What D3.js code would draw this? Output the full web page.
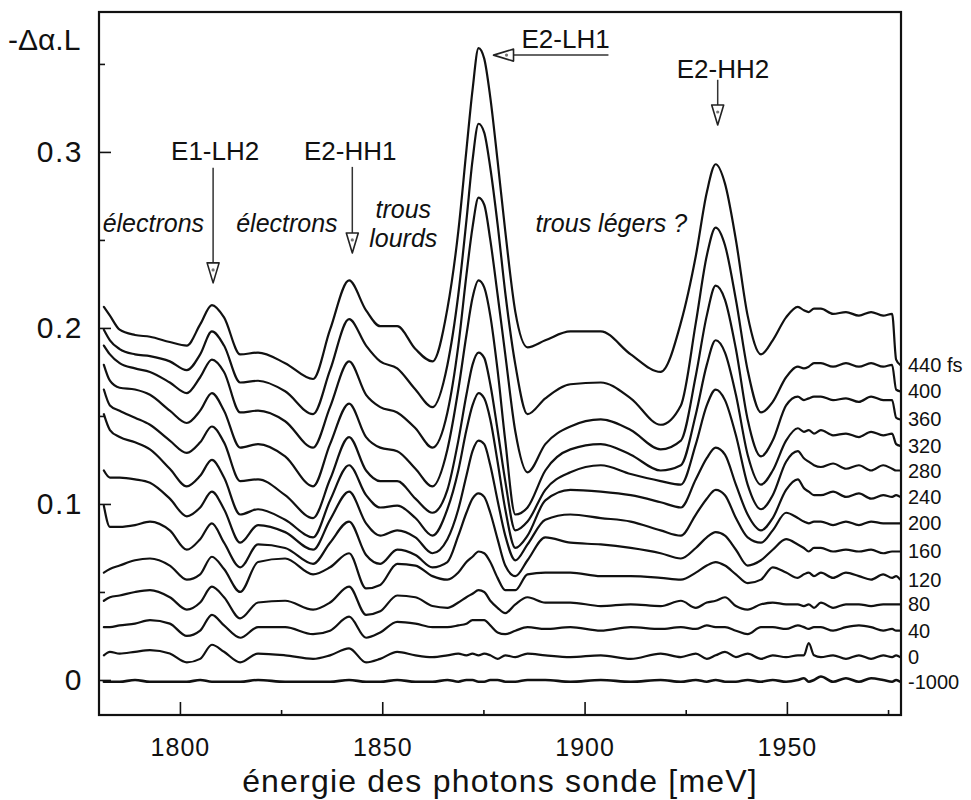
<!DOCTYPE html>
<html><head><meta charset="utf-8">
<script src="https://cdn.jsdelivr.net/npm/d3@7"></script>
<style>
body{margin:0;background:#fff}
svg{display:block}
text{font-family:"Liberation Sans",Arial,Helvetica,sans-serif;fill:#111}
</style>
</head><body>
<svg id="c" width="971" height="800"></svg>
<script>
// ---------------- data ----------------
const energies = [1781.2,1782.7,1785.1,1788.9,1792.6,1797.5,1801.7,1805.0,1807.9,1810.9,
  1814.9,1819.3,1826.0,1832.9,1837.1,1841.8,1846.0,1849.5,1853.7,1858.2,
  1862.4,1866.1,1868.8,1870.8,1872.3,1873.8,1875.2,1876.7,1878.5,1880.4,
  1882.9,1885.9,1890.3,1896.5,1904.0,1911.4,1918.8,1923.8,1927.5,1930.2,
  1932.4,1934.7,1937.4,1940.3,1943.6,1946.5,1949.8,1952.7,1954.2,1955.4,
  1956.7,1958.4,1961.4,1964.6,1967.8,1970.8,1973.8,1976.0,1977.0,1978.0];

const delayLabels = ["440 fs","400","360","320","280","240","200","160","120","80","40","0","-1000"];

const s440 = [0.212,0.207,0.199,0.196,0.195,0.192,0.190,0.202,0.213,0.206,
  0.185,0.186,0.180,0.171,0.199,0.227,0.210,0.201,0.201,0.188,
  0.181,0.211,0.255,0.301,0.335,0.359,0.353,0.331,0.295,0.255,
  0.209,0.189,0.193,0.198,0.198,0.185,0.175,0.203,0.241,0.277,
  0.293,0.282,0.250,0.207,0.185,0.193,0.206,0.212,0.210,0.209,
  0.211,0.211,0.208,0.209,0.207,0.209,0.207,0.208,0.182,0.179];
const s400 = [0.199,0.193,0.188,0.185,0.184,0.181,0.176,0.185,0.198,0.190,
  0.169,0.170,0.164,0.151,0.176,0.205,0.190,0.181,0.177,0.165,
  0.155,0.179,0.219,0.261,0.295,0.316,0.311,0.291,0.259,0.220,
  0.179,0.151,0.160,0.168,0.169,0.160,0.145,0.156,0.203,0.241,
  0.257,0.247,0.216,0.176,0.152,0.158,0.172,0.178,0.177,0.178,
  0.180,0.180,0.178,0.180,0.178,0.180,0.178,0.179,0.165,0.164];
const s360 = [0.190,0.185,0.180,0.177,0.175,0.169,0.163,0.172,0.182,0.175,
  0.152,0.153,0.147,0.132,0.155,0.181,0.162,0.155,0.152,0.143,
  0.132,0.152,0.190,0.230,0.257,0.274,0.270,0.250,0.219,0.185,
  0.141,0.118,0.134,0.144,0.148,0.142,0.131,0.136,0.173,0.207,
  0.224,0.216,0.188,0.148,0.127,0.136,0.156,0.161,0.159,0.160,
  0.161,0.161,0.159,0.160,0.158,0.161,0.159,0.159,0.149,0.148];
const s320 = [0.179,0.170,0.166,0.165,0.162,0.153,0.146,0.153,0.163,0.153,
  0.132,0.134,0.127,0.110,0.134,0.157,0.138,0.132,0.130,0.120,
  0.110,0.131,0.165,0.196,0.217,0.227,0.223,0.207,0.176,0.136,
  0.094,0.098,0.119,0.131,0.134,0.128,0.119,0.122,0.151,0.179,
  0.193,0.186,0.162,0.128,0.111,0.119,0.136,0.143,0.141,0.142,
  0.140,0.142,0.139,0.140,0.138,0.141,0.139,0.140,0.134,0.133];
const s280 = [0.165,0.156,0.153,0.149,0.145,0.136,0.129,0.135,0.144,0.135,
  0.113,0.114,0.105,0.092,0.114,0.138,0.119,0.113,0.113,0.103,
  0.095,0.108,0.136,0.162,0.179,0.186,0.183,0.168,0.142,0.113,
  0.085,0.090,0.108,0.118,0.122,0.117,0.113,0.111,0.134,0.156,
  0.165,0.159,0.139,0.111,0.097,0.105,0.124,0.130,0.126,0.124,
  0.122,0.121,0.123,0.120,0.122,0.119,0.122,0.120,0.119,0.119];
const s240 = [0.151,0.142,0.138,0.135,0.131,0.120,0.110,0.116,0.125,0.115,
  0.094,0.097,0.091,0.081,0.102,0.122,0.105,0.098,0.099,0.092,
  0.082,0.097,0.119,0.142,0.156,0.163,0.160,0.148,0.124,0.097,
  0.075,0.082,0.102,0.108,0.107,0.105,0.101,0.098,0.114,0.126,
  0.132,0.128,0.111,0.094,0.085,0.092,0.108,0.114,0.109,0.107,
  0.105,0.105,0.107,0.104,0.106,0.103,0.105,0.104,0.105,0.104];
const s200 = [0.119,0.115,0.115,0.114,0.112,0.103,0.093,0.098,0.107,0.097,
  0.078,0.088,0.084,0.074,0.091,0.107,0.089,0.082,0.085,0.081,
  0.072,0.080,0.097,0.116,0.130,0.136,0.134,0.122,0.102,0.082,
  0.068,0.077,0.091,0.094,0.092,0.090,0.085,0.082,0.094,0.103,
  0.108,0.105,0.092,0.081,0.078,0.085,0.095,0.092,0.090,0.089,
  0.090,0.090,0.088,0.090,0.088,0.090,0.089,0.089,0.089,0.089];
const s160 = [0.099,0.087,0.087,0.088,0.090,0.085,0.074,0.080,0.089,0.078,
  0.064,0.077,0.075,0.066,0.078,0.090,0.071,0.066,0.074,0.071,
  0.064,0.067,0.082,0.095,0.103,0.106,0.104,0.095,0.080,0.065,
  0.059,0.068,0.081,0.078,0.077,0.075,0.072,0.069,0.075,0.081,
  0.084,0.082,0.074,0.065,0.068,0.074,0.080,0.077,0.075,0.073,
  0.075,0.075,0.073,0.074,0.073,0.074,0.072,0.073,0.073,0.073];
const s120 = [0.061,0.063,0.065,0.068,0.069,0.065,0.057,0.060,0.070,0.063,
  0.050,0.067,0.069,0.060,0.064,0.072,0.052,0.054,0.066,0.065,
  0.059,0.057,0.061,0.067,0.070,0.073,0.072,0.067,0.058,0.051,
  0.051,0.060,0.061,0.061,0.059,0.059,0.058,0.057,0.061,0.065,
  0.067,0.065,0.060,0.055,0.057,0.064,0.061,0.058,0.060,0.061,
  0.059,0.061,0.058,0.061,0.059,0.057,0.060,0.058,0.059,0.057];
const s80 = [0.045,0.047,0.048,0.050,0.051,0.047,0.040,0.044,0.053,0.047,
  0.035,0.044,0.045,0.040,0.044,0.053,0.037,0.039,0.048,0.047,
  0.042,0.041,0.044,0.047,0.049,0.051,0.050,0.045,0.041,0.038,
  0.043,0.047,0.044,0.044,0.042,0.043,0.042,0.045,0.041,0.044,
  0.045,0.047,0.042,0.040,0.043,0.044,0.043,0.043,0.042,0.043,
  0.041,0.044,0.041,0.043,0.043,0.042,0.043,0.043,0.043,0.043];
const s40 = [0.030,0.030,0.031,0.032,0.034,0.032,0.025,0.028,0.037,0.031,
  0.024,0.030,0.030,0.026,0.028,0.036,0.024,0.027,0.033,0.032,
  0.030,0.030,0.031,0.032,0.034,0.034,0.034,0.031,0.027,0.026,
  0.028,0.030,0.029,0.030,0.028,0.030,0.029,0.030,0.029,0.031,
  0.030,0.030,0.028,0.026,0.030,0.030,0.029,0.031,0.030,0.029,
  0.030,0.030,0.028,0.030,0.031,0.030,0.028,0.029,0.028,0.028];
const s0 = [0.014,0.016,0.015,0.016,0.017,0.015,0.010,0.012,0.020,0.016,
  0.010,0.015,0.014,0.012,0.014,0.018,0.010,0.012,0.016,0.014,
  0.013,0.014,0.015,0.014,0.015,0.014,0.015,0.014,0.012,0.014,
  0.013,0.015,0.014,0.013,0.014,0.012,0.015,0.013,0.015,0.012,
  0.014,0.016,0.013,0.015,0.012,0.014,0.013,0.014,0.014,0.021,
  0.014,0.013,0.014,0.012,0.014,0.012,0.014,0.013,0.014,0.013];
const sM1000 = [-0.001,-0.001,-0.001,0.000,-0.001,-0.001,-0.001,0.000,-0.001,-0.001,
  -0.001,0.000,-0.001,-0.001,-0.001,0.000,-0.001,-0.001,0.000,-0.001,
  -0.001,0.000,-0.001,0.000,0.000,-0.001,-0.001,0.000,0.000,-0.001,
  -0.001,0.000,0.000,-0.001,0.000,-0.001,0.000,-0.001,0.000,-0.001,
  0.000,-0.001,-0.001,0.000,-0.001,0.000,-0.001,0.000,0.001,-0.001,
  0.000,0.002,-0.001,0.001,-0.001,0.001,0.000,-0.001,0.000,-0.001];

const xTicks = [1800, 1850, 1900, 1950];
const xMinorTicks = [1825, 1875, 1925, 1975];
const yTicks = [0, 0.1, 0.2, 0.3];
const yMinorTicks = [0.05, 0.15, 0.25, 0.35];
const yTickLabels = ["0", "0.1", "0.2", "0.3"];

const allSeries = [s440,s400,s360,s320,s280,s240,s200,s160,s120,s80,s40,s0,sM1000];
const series = delayLabels.map((label,i)=>({label, values: allSeries[i]}));

// ---------------- drawing ----------------
const W = 971, H = 800;
const M = {left:99, right:901, top:12, bottom:715};
const svg = d3.select("#c");
svg.append("rect").attr("width",W).attr("height",H).attr("fill","#fff");

const x = d3.scaleLinear().domain([1780, 1978.2]).range([M.left, M.right]);
const y = d3.scaleLinear().domain([-0.0199, 0.3795]).range([M.bottom, M.top]);

svg.append("clipPath").attr("id","plotclip").append("rect")
  .attr("x",M.left).attr("y",M.top).attr("width",M.right-M.left).attr("height",M.bottom-M.top);

const line = d3.line()
  .x((d,i)=>x(energies[i]))
  .y(d=>y(d))
  .curve(d3.curveMonotoneX);

const gLines = svg.append("g").attr("clip-path","url(#plotclip)");
series.forEach((s,i)=>{
  gLines.append("path")
    .attr("d", line(s.values))
    .attr("fill","none")
    .attr("stroke","#111")
    .attr("stroke-width", i===series.length-1 ? 2.6 : 2.2)
    .attr("stroke-linejoin","round")
    .attr("stroke-linecap","round");
});

// axes (inward ticks)
function styleAxis(g){
  g.select(".domain").remove();
  g.selectAll(".tick line").attr("stroke","#111").attr("stroke-width",1.6);
  g.attr("font-family",null).attr("font-size",null);
}
const gy = svg.append("g").attr("transform",`translate(${M.left},0)`)
  .call(d3.axisLeft(y).tickValues(yTicks).tickSize(-12).tickPadding(16)
    .tickFormat((d,i)=>yTickLabels[i]));
styleAxis(gy);
gy.selectAll("text").style("font-size","30px").style("letter-spacing","1.5px");

const gy2 = svg.append("g").attr("transform",`translate(${M.left},0)`)
  .call(d3.axisLeft(y).tickValues(yMinorTicks).tickSize(-6).tickFormat(""));
styleAxis(gy2);

const gx = svg.append("g").attr("transform",`translate(0,${M.bottom})`)
  .call(d3.axisBottom(x).tickValues(xTicks).tickSize(-13).tickPadding(23).tickFormat(d3.format("d")));
styleAxis(gx);
gx.selectAll("text").style("font-size","25px").style("letter-spacing","1px");

const gx2 = svg.append("g").attr("transform",`translate(0,${M.bottom})`)
  .call(d3.axisBottom(x).tickValues(xMinorTicks).tickSize(-5).tickFormat(""));
styleAxis(gx2);

// frame
svg.append("rect").attr("x",M.left).attr("y",M.top)
  .attr("width",M.right-M.left).attr("height",M.bottom-M.top)
  .attr("fill","none").attr("stroke","#111").attr("stroke-width",2.2);

// axis titles
svg.append("text").attr("x",8).attr("y",50)
  .style("font-size","30px").text("-\u0394\u03b1.L");
svg.append("text").attr("x",500).attr("y",792).attr("text-anchor","middle")
  .style("font-size","32px").style("letter-spacing","1.2px")
  .text("énergie des photons sonde [meV]");

// delay labels at right end of each curve
series.forEach(s=>{
  svg.append("text").attr("x",908).attr("y",y(s.values[s.values.length-1]))
    .attr("dy","0.35em").style("font-size","20px").text(s.label);
});

// transition labels and arrows
const transitionLabels = [
  {text:"E1-LH2", e:1808.7, v:0.2955},
  {text:"E2-HH1", e:1842.1, v:0.2955},
  {text:"E2-LH1", e:1895.3, v:0.359},
  {text:"E2-HH2", e:1934.2, v:0.342}
];
transitionLabels.forEach(t=>{
  svg.append("text").attr("x",x(t.e)).attr("y",y(t.v)).attr("text-anchor","middle")
    .style("font-size","26px").text(t.text);
});

const arrows = [
  {e1:1808.2, v1:0.291, e2:1808.2, v2:0.2256},
  {e1:1842.6, v1:0.2915, e2:1842.6, v2:0.2426},
  {e1:1932.9, v1:0.341, e2:1932.9, v2:0.3153},
  {e1:1905.9, v1:0.355, e2:1877.5, v2:0.355}
];
arrows.forEach(a=>{
  const x1=x(a.e1), y1=y(a.v1), x2=x(a.e2), y2=y(a.v2);
  const L = Math.hypot(x2-x1,y2-y1), ux=(x2-x1)/L, uy=(y2-y1)/L;
  const hl=20, hw=6;
  const bx=x2-ux*hl, by=y2-uy*hl;
  svg.append("line").attr("x1",x1).attr("y1",y1).attr("x2",bx).attr("y2",by)
    .attr("stroke","#333").attr("stroke-width",1.5);
  const pts=[[x2,y2],[bx-uy*hw,by+ux*hw],[bx+uy*hw,by-ux*hw]];
  svg.append("path").attr("d","M"+pts.map(p=>p.join(",")).join("L")+"Z")
    .attr("fill","#fff").attr("stroke","#222").attr("stroke-width",1.6)
    .attr("stroke-linejoin","round");
  svg.append("circle").attr("cx",bx+ux*7).attr("cy",by+uy*7).attr("r",1.6).attr("fill","#777");
});

const regionLabels = [
  {lines:["électrons"], e:1780.9, v:0.2545, anchor:"start"},
  {lines:["électrons"], e:1813.9, v:0.2545, anchor:"start"},
  {lines:["trous","lourds"], e:1855.2, v:0.2625, anchor:"middle"},
  {lines:["trous légers ?"], e:1887.9, v:0.2545, anchor:"start"}
];
regionLabels.forEach(r=>{
  const t = svg.append("text").attr("x",x(r.e)).attr("y",y(r.v)).attr("text-anchor",r.anchor)
    .style("font-size","25px").style("font-style","italic");
  r.lines.forEach((ln,i)=>{
    t.append("tspan").attr("x",x(r.e)).attr("dy", i===0?0:29).text(ln);
  });
});
</script>
</body></html>
